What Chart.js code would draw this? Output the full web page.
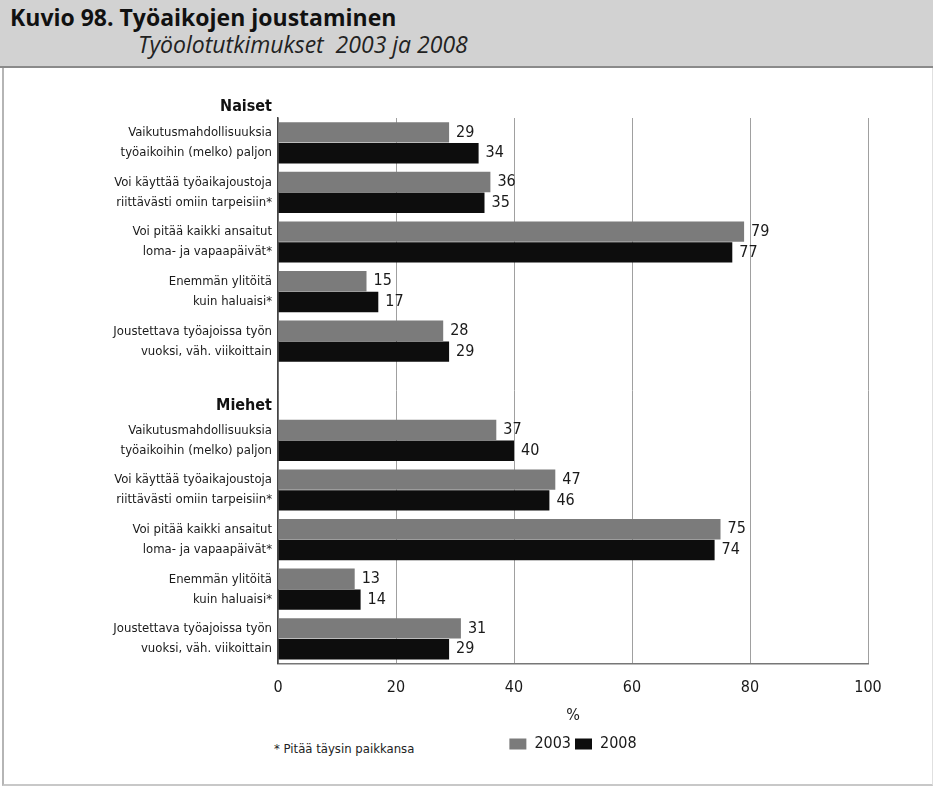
<!DOCTYPE html>
<html>
<head>
<meta charset="utf-8">
<script src="https://cdn.jsdelivr.net/npm/chart.js@4/dist/chart.umd.min.js"></script>
<style>
  html, body { margin: 0; padding: 0; background: #fff; }
  #page { position: relative; width: 933px; height: 789px; overflow: hidden; }
  #head {
    position: absolute; left: 0; top: 0; width: 933px; height: 66px;
    background: #d2d2d2; border-bottom: 2px solid #8a8a8a;
  }
  #head .t1 { position: absolute; left: 10px; top: 1px; font: bold 23px "Open Sans", sans-serif; color: #111; }
  #head .t2 { position: absolute; left: 138px; top: 28px; font: italic 23px "Open Sans", sans-serif; color: #222; }
  #frame {
    position: absolute; left: 2px; top: 68px; width: 928px; height: 716px;
    border-left: 2px solid #b5b5b5; border-bottom: 2px solid #c8c8c8; border-right: 1px solid #e0e0e0;
  }
  #note { position: absolute; left: 274px; top: 741px; font: 13px "DejaVu Sans Condensed", sans-serif; color: #222; }
  canvas { position: absolute; left: 0; top: 0; }
</style>
</head>
<body>
<div id="page">
  <div id="head">
    <div class="t1">Kuvio 98. Työaikojen joustaminen</div>
    <div class="t2">Työolotutkimukset&nbsp; 2003 ja 2008</div>
  </div>
  <div id="frame"></div>
  <div id="note">* Pitää täysin paikkansa</div>
  <canvas id="c" width="933" height="789"></canvas>
</div>
<script>
// kysymykset (sama lista naisille ja miehille)
const items = [
  ['Vaikutusmahdollisuuksia', 'työaikoihin (melko) paljon'],
  ['Voi käyttää työaikajoustoja', 'riittävästi omiin tarpeisiin*'],
  ['Voi pitää kaikki ansaitut', 'loma- ja vapaapäivät*'],
  ['Enemmän ylitöitä', 'kuin haluaisi*'],
  ['Joustettava työajoissa työn', 'vuoksi, väh. viikoittain']
];
const groups = ['Naiset', 'Miehet'];
const naiset2003 = [29, 36, 79, 15, 28];
const naiset2008 = [34, 35, 77, 17, 29];
const miehet2003 = [37, 47, 75, 13, 31];
const miehet2008 = [40, 46, 74, 14, 29];
const xTicks = [0, 20, 40, 60, 80, 100];

// tyhjä rivi ryhmien väliin
const labels = [...items, '', ...items];
const d2003 = [...naiset2003, null, ...miehet2003];
const d2008 = [...naiset2008, null, ...miehet2008];

const narrow = '"DejaVu Sans Condensed", sans-serif';

const extras = {
  id: 'extras',
  afterDatasetsDraw(chart) {
    const ctx = chart.ctx;
    const y = chart.scales.y;
    ctx.save();
    // arvot palkkien perään
    ctx.font = '16px ' + narrow;
    ctx.fillStyle = '#1a1a1a';
    ctx.textAlign = 'left';
    ctx.textBaseline = 'middle';
    chart.data.datasets.forEach((ds, i) => {
      chart.getDatasetMeta(i).data.forEach((bar, j) => {
        if (ds.data[j] == null) return;
        ctx.fillText(ds.data[j], bar.x + 7, bar.y);
      });
    });
    // ryhmäotsikot
    ctx.font = 'bold 16px ' + narrow;
    ctx.fillStyle = '#111';
    ctx.textAlign = 'right';
    const step = y.getPixelForValue(1) - y.getPixelForValue(0);
    ctx.fillText(groups[0], chart.chartArea.left - 6, y.getPixelForValue(0) - step / 2 - 11);
    ctx.fillText(groups[1], chart.chartArea.left - 6, y.getPixelForValue(5) + 15);
    ctx.restore();
  }
};

new Chart(document.getElementById('c'), {
  type: 'bar',
  data: {
    labels: labels,
    datasets: [
      { label: '2003', data: d2003, backgroundColor: '#7b7b7b', barPercentage: 0.98, categoryPercentage: 0.84 },
      { label: '2008', data: d2008, backgroundColor: '#0d0d0d', barPercentage: 0.98, categoryPercentage: 0.84 }
    ]
  },
  options: {
    indexAxis: 'y',
    responsive: false,
    animation: false,
    layout: { padding: { top: 118, right: 65, bottom: 27, left: 0 } },
    scales: {
      x: {
        min: 0, max: 100,
        afterBuildTicks: s => { s.ticks = xTicks.map(v => ({ value: v })); },
        grid: { color: '#a0a0a0', drawTicks: false },
        border: { color: '#777', width: 1.5 },
        ticks: { font: { size: 16, family: narrow }, color: '#1a1a1a', padding: 15 },
        title: { display: true, text: '%', font: { size: 16, family: narrow }, color: '#1a1a1a', padding: { top: -7, bottom: 7 } }
      },
      y: {
        grid: { display: false, drawTicks: false },
        border: { color: '#444', width: 1.5 },
        afterFit: s => { s.width = 278; },
        ticks: { font: { size: 13, family: narrow, lineHeight: 1.55 }, color: '#1a1a1a', padding: 6, autoSkip: false }
      }
    },
    plugins: {
      legend: {
        position: 'bottom',
        fullSize: false,
        labels: { boxWidth: 17, boxHeight: 11, padding: 4, font: { size: 16, family: narrow }, color: '#1a1a1a' }
      },
      tooltip: { enabled: false }
    }
  },
  plugins: [extras]
});
</script>
</body>
</html>
